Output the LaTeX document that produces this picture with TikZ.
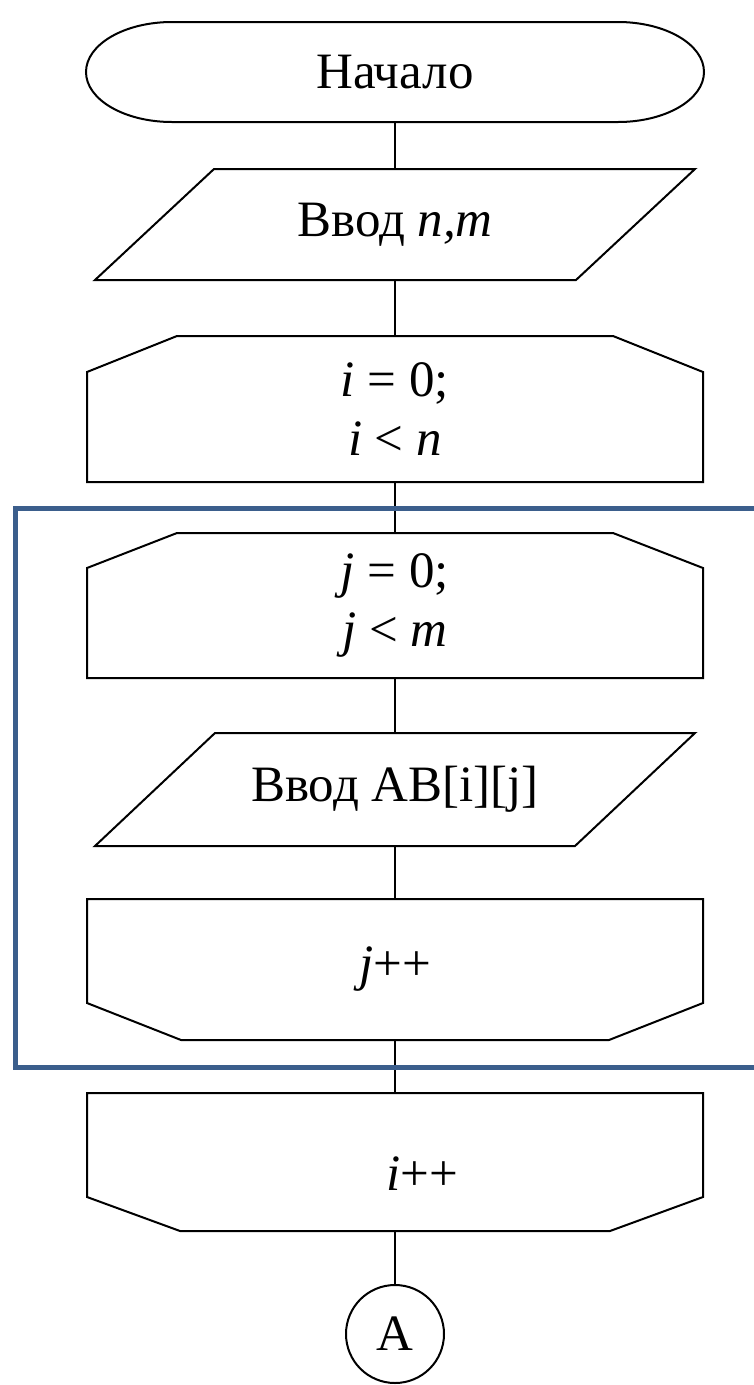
\documentclass[tikz,border=0pt]{standalone}
\usepackage{fontspec}
\setmainfont{Liberation Serif}
\usetikzlibrary{positioning}
\definecolor{frameblue}{HTML}{3B5E8C}

% outline of a loop head: chamfered top corners
\newcommand{\loophead}[3]{%
  \draw[line] (#1.south west) -- ([yshift=-#3]#1.north west) -- ([xshift=#2]#1.north west)
    -- ([xshift=-#2]#1.north east) -- ([yshift=-#3]#1.north east) -- (#1.south east) -- cycle;}
% outline of a loop end: chamfered bottom corners
\newcommand{\loopfoot}[3]{%
  \draw[line] (#1.north west) -- ([yshift=#3]#1.south west) -- ([xshift=#2]#1.south west)
    -- ([xshift=-#2]#1.south east) -- ([yshift=#3]#1.south east) -- (#1.north east) -- cycle;}
% outline of an input box: slanted sides
\newcommand{\inputbox}[2]{%
  \draw[line] (#1.south west) -- ([xshift=#2]#1.north west) -- (#1.north east)
    -- ([xshift=-#2]#1.south east) -- cycle;}

\begin{document}
\begin{tikzpicture}[x=1pt, y=-1pt, node distance=53pt,
   every node/.style={font=\fontsize{51}{59}\selectfont, outer sep=0pt, inner sep=0pt, align=center},
   term/.style={minimum width=618pt, minimum height=100pt},
   io/.style={minimum width=600pt, minimum height=#1},
   loopbox/.style={minimum width=616pt, minimum height=#1},
   conn/.style={draw, circle, line width=2pt, minimum size=98pt},
   line/.style={line width=2pt},
   frame/.style={draw=frameblue, line width=5pt}
]
\useasboundingbox (0,0) rectangle (754,1385);

% Nodes
\node [term] (start) at (395,72) {Начало};
\node [io=111pt, below=47pt of start] (readnm) {Ввод \textit{n,m}};
\node [loopbox=146pt, below=56pt of readnm] (loopi) {\textit{i} = 0;\\\textit{i} < \textit{n}};
\node [loopbox=145pt, below=51pt of loopi] (loopj) {\textit{j} = 0;\\\textit{j} < \textit{m}};
\node [io=113pt, below=55pt of loopj] (readab) {Ввод AB[i][j]};
\node [loopbox=141pt, below=of readab] (endj) {\textit{j}++};
\node [loopbox=138pt, below=of endj] (endi) {\hspace*{54pt}\raisebox{-16pt}[0.7em][0.2em]{\textit{i}++}};
\node [conn, below=54pt of endi] (link) {A};

% Outlines
\draw[line] ([xshift=86pt]start.north west) -- ([xshift=-86pt]start.north east)
  arc[start angle=90, end angle=-90, x radius=86pt, y radius=50pt]
  -- ([xshift=86pt]start.south west)
  arc[start angle=-90, end angle=-270, x radius=86pt, y radius=50pt] -- cycle;
\inputbox{readnm}{119pt}
\inputbox{readab}{120pt}
\loophead{loopi}{90pt}{36pt}
\loophead{loopj}{90pt}{35pt}
\loopfoot{endj}{94pt}{37pt}
\loopfoot{endi}{93pt}{34pt}

% Arrows
\draw[line] (start) -- (readnm);
\draw[line] (readnm) -- (loopi);
\draw[line] (loopi) -- (loopj);
\draw[line] (loopj) -- (readab);
\draw[line] (readab) -- (endj);
\draw[line] (endj) -- (endi);
\draw[line] (endi) -- (link);

% inner loop frame
\draw[frame] (15.5,508) rectangle (775,1067.5);
\end{tikzpicture}
\end{document}
